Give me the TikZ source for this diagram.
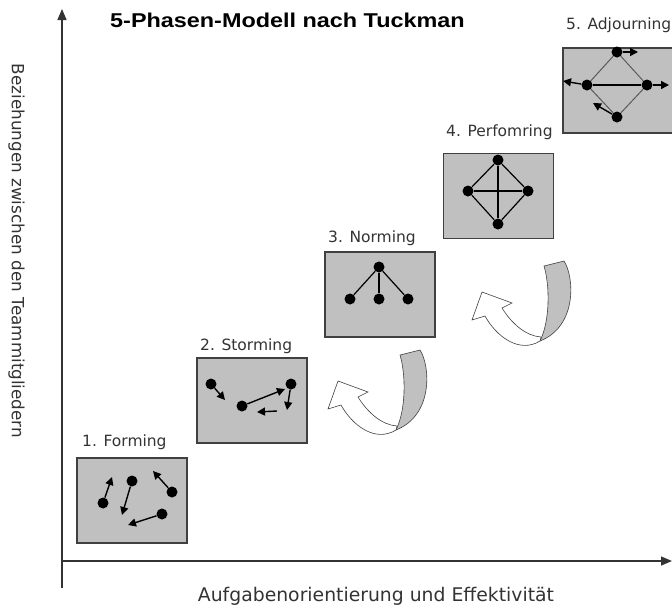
\documentclass[tikz,border=0pt]{standalone}
\usepackage{fontspec}
\setmainfont{DejaVu Sans}
\newfontfamily\titlefont[FakeStretch=1.17]{Liberation Sans}
\usetikzlibrary{arrows.meta,positioning}

\definecolor{boxgray}{HTML}{C0C0C0}
\definecolor{rimgray}{HTML}{404040}
\definecolor{txtgray}{HTML}{333333}
\definecolor{edgegray}{HTML}{5A5A5A}

\tikzset{
  phase/.style={draw=rimgray, fill=boxgray, line width=1.1pt,
    minimum width=110pt, minimum height=85pt, inner sep=0pt},
  member/.style={circle, fill=black, inner sep=0pt, minimum size=11pt},
  phasename/.style={text=txtgray, font=\fontsize{15.5}{18}\selectfont,
    inner sep=0pt, anchor=base west},
  axisname/.style={text=txtgray, inner sep=0pt, anchor=base},
  move/.style={line width=1.4pt, -{Triangle[length=8pt,width=8pt]}},
  tie/.style={line width=1.2pt},
  loosetie/.style={line width=1pt, draw=edgegray},
  axis/.style={line width=1.3pt, draw=txtgray, -{Triangle[length=11pt,width=9pt]}},
  twist/.pic={
    \draw[draw=rimgray, line width=0.6pt, fill=boxgray]
      (0,0) -- (20,-5) .. controls (30,10) and (34,60) .. (-4,75)
      .. controls (6,55) and (6,20) .. (0,0) -- cycle;
    \draw[draw=rimgray, line width=0.6pt, fill=white]
      (-4,75) .. controls (-25,88) and (-48,70) .. (-59,50)
      -- (-72,54) -- (-62,26) -- (-32,37) -- (-42,42)
      .. controls (-32,58) and (-18,70) .. (-3,71) -- cycle;
  }
}

\begin{document}
\begin{tikzpicture}[x=1pt, y=-1pt]
  \useasboundingbox (0,0) rectangle (672,606);

  % axes
  \coordinate (O) at (62,561);
  \coordinate (YT) at (62,9);
  \coordinate (YB) at (62,588);
  \coordinate (XE) at (672,561);
  \draw[axis] (YB) -- (YT);
  \draw[axis] (O) -- (XE);

  \node (T) [font=\titlefont\bfseries\fontsize{20}{24}\selectfont, inner sep=0pt, anchor=base west]
    at (110,27) {5-Phasen-Modell nach Tuckman};
  \node (XL) [axisname, font=\fontsize{18.8}{22}\selectfont] at (376,601)
    {Aufgabenorientierung und Effektivität};
  \node (YL) [axisname, font=\fontsize{16.8}{20}\selectfont, rotate=-90] at (12,251)
    {Beziehungen zwischen den Teammitgliedern};

  % phases
  \node (BF) [phase] at (132,500.5) {};
  \node (BS) [phase] at (252,400.5) {};
  \node (BN) [phase] at (380,294.5) {};
  \node (BP) [phase] at (498.5,196) {};
  \node (BA) [phase] at (618,90.5) {};

  \node (LF) [phasename] at (82,446) {1. Forming};
  \node (LS) [phasename] at (200,350) {2. Storming};
  \node (LN) [phasename] at (328,242) {3. Norming};
  \node (LP) [phasename] at (446,136) {4. Perfomring};
  \node (LA) [phasename] at (566,29) {5. Adjourning};

  % forming
  \node (F1) [member] at (103,503) {};
  \node (F2) [member] at (132,481) {};
  \node (F3) [member] at (172,492) {};
  \node (F4) [member] at (162,514) {};
  \coordinate (F1to) at (112,477);
  \coordinate (F2to) at (122,515);
  \coordinate (F3to) at (153,471);
  \coordinate (F4to) at (128,525);
  \draw[move] (F1) -- (F1to);
  \draw[move] (F2) -- (F2to);
  \draw[move] (F3) -- (F3to);
  \draw[move] (F4) -- (F4to);

  % storming
  \node (S1) [member] at (211,384) {};
  \node (S2) [member] at (242,406) {};
  \node (S3) [member] at (291,384) {};
  \coordinate (S1to) at (225,400);
  \coordinate (S2to) at (285,389);
  \coordinate (S3to) at (287,410);
  \coordinate (S4) at (277,411);
  \coordinate (S4to) at (257,412);
  \draw[move] (S1) -- (S1to);
  \draw[move] (S2) -- (S2to);
  \draw[move] (S3) -- (S3to);
  \draw[move] (S4) -- (S4to);

  % norming
  \node (N0) [member] at (379,267) {};
  \node (N1) [member] at (350,299) {};
  \node (N2) [member] at (379,299) {};
  \node (N3) [member] at (408,299) {};
  \draw[tie] (N0) -- (N1);
  \draw[tie] (N0) -- (N2);
  \draw[tie] (N0) -- (N3);

  % performing
  \node (P1) [member] at (498,160) {};
  \node (P2) [member] at (468,191) {};
  \node (P3) [member] at (528,191) {};
  \node (P4) [member] at (498,224) {};
  \draw[tie] (P1) -- (P2);
  \draw[tie] (P1) -- (P3);
  \draw[tie] (P2) -- (P4);
  \draw[tie] (P3) -- (P4);
  \draw[tie] (P2) -- (P3);
  \draw[tie] (P1) -- (P4);

  % adjourning
  \node (A1) [member] at (617,52) {};
  \node (A2) [member] at (587,85) {};
  \node (A3) [member] at (647,85) {};
  \node (A4) [member] at (617,117) {};
  \draw[loosetie] (A1) -- (A2);
  \draw[loosetie] (A1) -- (A3);
  \draw[tie] (A2) -- (A3);
  \draw[loosetie] (A2) -- (A4);
  \draw[loosetie] (A4) -- (A3);
  \coordinate (A1to) at (638,52);
  \coordinate (A2to) at (563,81);
  \coordinate (A3to) at (669,85);
  \coordinate (A4to) at (593,103);
  \draw[move] (A1) -- (A1to);
  \draw[move] (A2) -- (A2to);
  \draw[move] (A3) -- (A3to);
  \draw[move] (A4) -- (A4to);

  % turning arrows
  \pic at (400,355) {twist};
  \pic at (544,266) {twist};
\end{tikzpicture}
\end{document}
